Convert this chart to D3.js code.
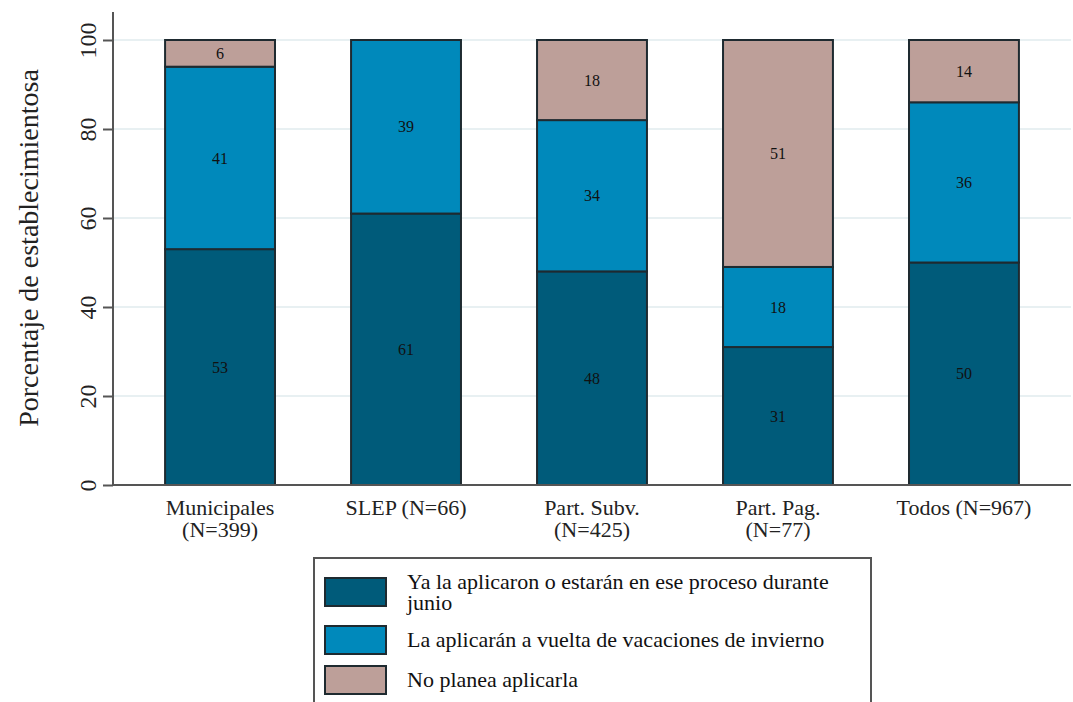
<!DOCTYPE html>
<html>
<head>
<meta charset="utf-8">
<script src="https://cdn.jsdelivr.net/npm/d3@7"></script>
<style>
  body { margin: 0; background: #fff; }
  svg { display: block; font-family: "Liberation Serif", "Times New Roman", serif; }
</style>
</head>
<body>
<svg id="chart" width="1073" height="702"></svg>
<script>
// Data
var categories = ["Municipales\n(N=399)", "SLEP (N=66)", "Part. Subv.\n(N=425)", "Part. Pag.\n(N=77)", "Todos (N=967)"];
var yaAplicaron = [53, 61, 48, 31, 50];
var vueltaVacaciones = [41, 39, 34, 18, 36];
var noPlanea = [6, 0, 18, 51, 14];
var yTicks = [0, 20, 40, 60, 80, 100];
var seriesNames = ["Ya la aplicaron o estarán en ese proceso durante\njunio", "La aplicarán a vuelta de vacaciones de invierno", "No planea aplicarla"];
var seriesColors = ["#005b7a", "#0089bb", "#bd9f99"];

var svg = d3.select("#chart");
var plotLeft = 113, plotRight = 1071, plotTop = 40, plotBottom = 485;

var rows = categories.map(function(c, i) {
  return { cat: c, s0: yaAplicaron[i], s1: vueltaVacaciones[i], s2: noPlanea[i] };
});
var stack = d3.stack().keys(["s0", "s1", "s2"]);
var layers = stack(rows);

var x = d3.scaleBand()
  .domain(categories)
  .range([plotLeft, plotRight])
  .paddingInner(0.409)
  .paddingOuter(0.28);

var y = d3.scaleLinear()
  .domain([0, 100])
  .range([plotBottom, plotTop]);

// Gridlines
svg.append("g")
  .selectAll("line")
  .data(yTicks.filter(function(d) { return d > 0; }))
  .join("line")
  .attr("x1", plotLeft).attr("x2", plotRight)
  .attr("y1", function(d) { return y(d); })
  .attr("y2", function(d) { return y(d); })
  .attr("stroke", "#e8f0f2")
  .attr("stroke-width", 2);

// Bars
var groups = svg.append("g")
  .selectAll("g")
  .data(layers)
  .join("g")
  .attr("fill", function(d, i) { return seriesColors[i]; });

groups.selectAll("rect")
  .data(function(d) { return d.filter(function(p) { return p[1] - p[0] > 0; }); })
  .join("rect")
  .attr("x", function(d) { return x(d.data.cat); })
  .attr("y", function(d) { return y(d[1]); })
  .attr("width", x.bandwidth())
  .attr("height", function(d) { return y(d[0]) - y(d[1]); })
  .attr("stroke", "#1e2a30")
  .attr("stroke-width", 2);

// Value labels
groups.selectAll("text")
  .data(function(d) { return d.filter(function(p) { return p[1] - p[0] > 0; }); })
  .join("text")
  .attr("x", function(d) { return x(d.data.cat) + x.bandwidth() / 2; })
  .attr("y", function(d) { return y((d[0] + d[1]) / 2); })
  .attr("dy", "0.35em")
  .attr("text-anchor", "middle")
  .attr("font-size", 16)
  .attr("fill", "#111")
  .text(function(d) { return d[1] - d[0]; });

// Y axis
var yAxis = svg.append("g")
  .attr("transform", "translate(" + plotLeft + ",0)")
  .call(d3.axisLeft(y).tickValues(yTicks).tickSize(10).tickSizeOuter(0));
yAxis.select(".domain").attr("d", "M0," + y(106.3) + "V" + (plotBottom + 1)).attr("stroke", "#555").attr("stroke-width", 2);
yAxis.selectAll(".tick line").attr("stroke", "#555").attr("stroke-width", 2);
yAxis.selectAll(".tick text")
  .attr("font-family", "Liberation Serif, serif")
  .attr("font-size", 24)
  .attr("fill", "#222")
  .attr("transform", "rotate(-90)")
  .attr("x", 0)
  .attr("y", -17)
  .attr("text-anchor", "middle")
  .attr("dy", "0");

// X axis
var xAxis = svg.append("g")
  .attr("transform", "translate(0," + plotBottom + ")")
  .call(d3.axisBottom(x).tickSize(0).tickSizeOuter(0).tickPadding(14));
xAxis.select(".domain").attr("d", "M" + plotLeft + ",0H" + plotRight).attr("stroke", "#555").attr("stroke-width", 2);
xAxis.selectAll(".tick text").each(function(d) {
  var t = d3.select(this).text("");
  t.attr("font-family", "Liberation Serif, serif").attr("font-size", 22).attr("fill", "#222");
  d.split("\n").forEach(function(line, i) {
    t.append("tspan").attr("x", 0).attr("dy", i === 0 ? "0.71em" : "1.0em").text(line);
  });
});

// Y axis title
svg.append("text")
  .attr("transform", "translate(38," + 248 + ") rotate(-90)")
  .attr("text-anchor", "middle")
  .attr("font-size", 28)
  .attr("fill", "#222")
  .text("Porcentaje de establecimientosa");

// Legend
var legend = svg.append("g");
legend.append("rect")
  .attr("x", 314).attr("y", 558)
  .attr("width", 557).attr("height", 160)
  .attr("fill", "#fff")
  .attr("stroke", "#555")
  .attr("stroke-width", 2);

var legendY = [592, 640, 680];
seriesNames.forEach(function(name, i) {
  legend.append("rect")
    .attr("x", 325).attr("y", legendY[i] - 14)
    .attr("width", 61).attr("height", 28)
    .attr("fill", seriesColors[i])
    .attr("stroke", "#1e2a30")
    .attr("stroke-width", 2);
  var t = legend.append("text")
    .attr("x", 407)
    .attr("y", i === 0 ? legendY[i] - 3 : legendY[i] + 7)
    .attr("font-size", 22)
    .attr("fill", "#111");
  name.split("\n").forEach(function(line, j) {
    t.append("tspan").attr("x", 407).attr("dy", j === 0 ? 0 : "0.95em").text(line);
  });
});
</script>
</body>
</html>
